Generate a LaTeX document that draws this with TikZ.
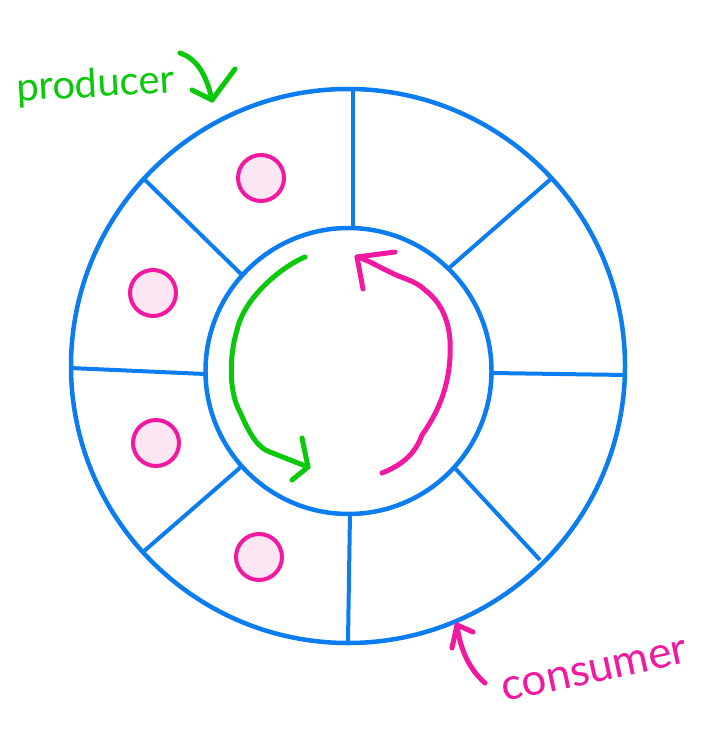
\documentclass[tikz,border=0pt]{standalone}
\usepackage{fontspec}
\setmainfont{Lato}
\definecolor{ringblue}{RGB}{12,125,240}
\definecolor{hgreen}{RGB}{10,200,10}
\definecolor{hpink}{RGB}{240,25,160}
\definecolor{dotfill}{RGB}{253,230,244}
\begin{document}
\begin{tikzpicture}[x=1pt,y=-1pt,
  ring/.style={draw=ringblue,line width=4.5pt},
  spoke/.style={draw=ringblue,line width=4pt},
  slotdot/.style={circle,draw=hpink,fill=dotfill,line width=4pt,minimum size=46pt,inner sep=0pt},
  gstroke/.style={draw=hgreen,line width=5pt,line cap=round,line join=round},
  pstroke/.style={draw=hpink,line width=5pt,line cap=round,line join=round}]
\useasboundingbox (0,0) rectangle (725,730);
% rings
\draw[ring] (348,366) circle[radius=277];
\draw[ring] (348.5,371) circle[radius=143];
% spokes
\draw[spoke] (353,90) -- (353,229);
\draw[spoke] (552,178) -- (449,268);
\draw[spoke] (492,373) -- (626,375);
\draw[spoke] (540,560) -- (453,466);
\draw[spoke] (348,641) -- (350,513);
\draw[spoke] (143,552) -- (242,466);
\draw[spoke] (70,368) -- (205,374);
\draw[spoke] (143,178) -- (242,275);
% items
\node[slotdot] (d1) at (261,178) {};
\node[slotdot] (d2) at (153,293) {};
\node[slotdot] (d3) at (156,443) {};
\node[slotdot] (d4) at (259,557) {};
% green producer arc
\draw[gstroke] (305,257) .. controls (285,265) and (245,295) .. (237,330)
  .. controls (228,360) and (230,395) .. (240,412)
  .. controls (250,435) and (258,448) .. (270,452)
  -- (308,467);
\draw[gstroke] (302,438) -- (308,467) -- (292,480);
% pink consumer arc
\draw[pstroke] (382,473) .. controls (400,466) and (415,455) .. (422,435)
  .. controls (440,410) and (452,380) .. (450,340)
  .. controls (448,315) and (438,300) .. (425,290)
  .. controls (415,280) and (400,278) .. (390,272)
  .. controls (375,265) and (368,260) .. (357,257);
\draw[pstroke] (363,289) -- (357,257) -- (395,252);
% producer label
\node[text=hgreen,font=\fontsize{40}{42}\selectfont,rotate=3,anchor=base] (prod) at (96,97) {producer};
\draw[gstroke] (180,53) .. controls (195,58) and (206,72) .. (212,100);
\draw[gstroke] (192,90) -- (212,100) -- (235,69);
% consumer label
\node[text=hpink,font=\fontsize{44}{46}\selectfont,rotate=12,anchor=base] (cons) at (597,682) {consumer};
\draw[pstroke] (485,683) .. controls (470,670) and (460,650) .. (457,625);
\draw[pstroke] (452,648) -- (457,625) -- (473,632);
\end{tikzpicture}
\end{document}
